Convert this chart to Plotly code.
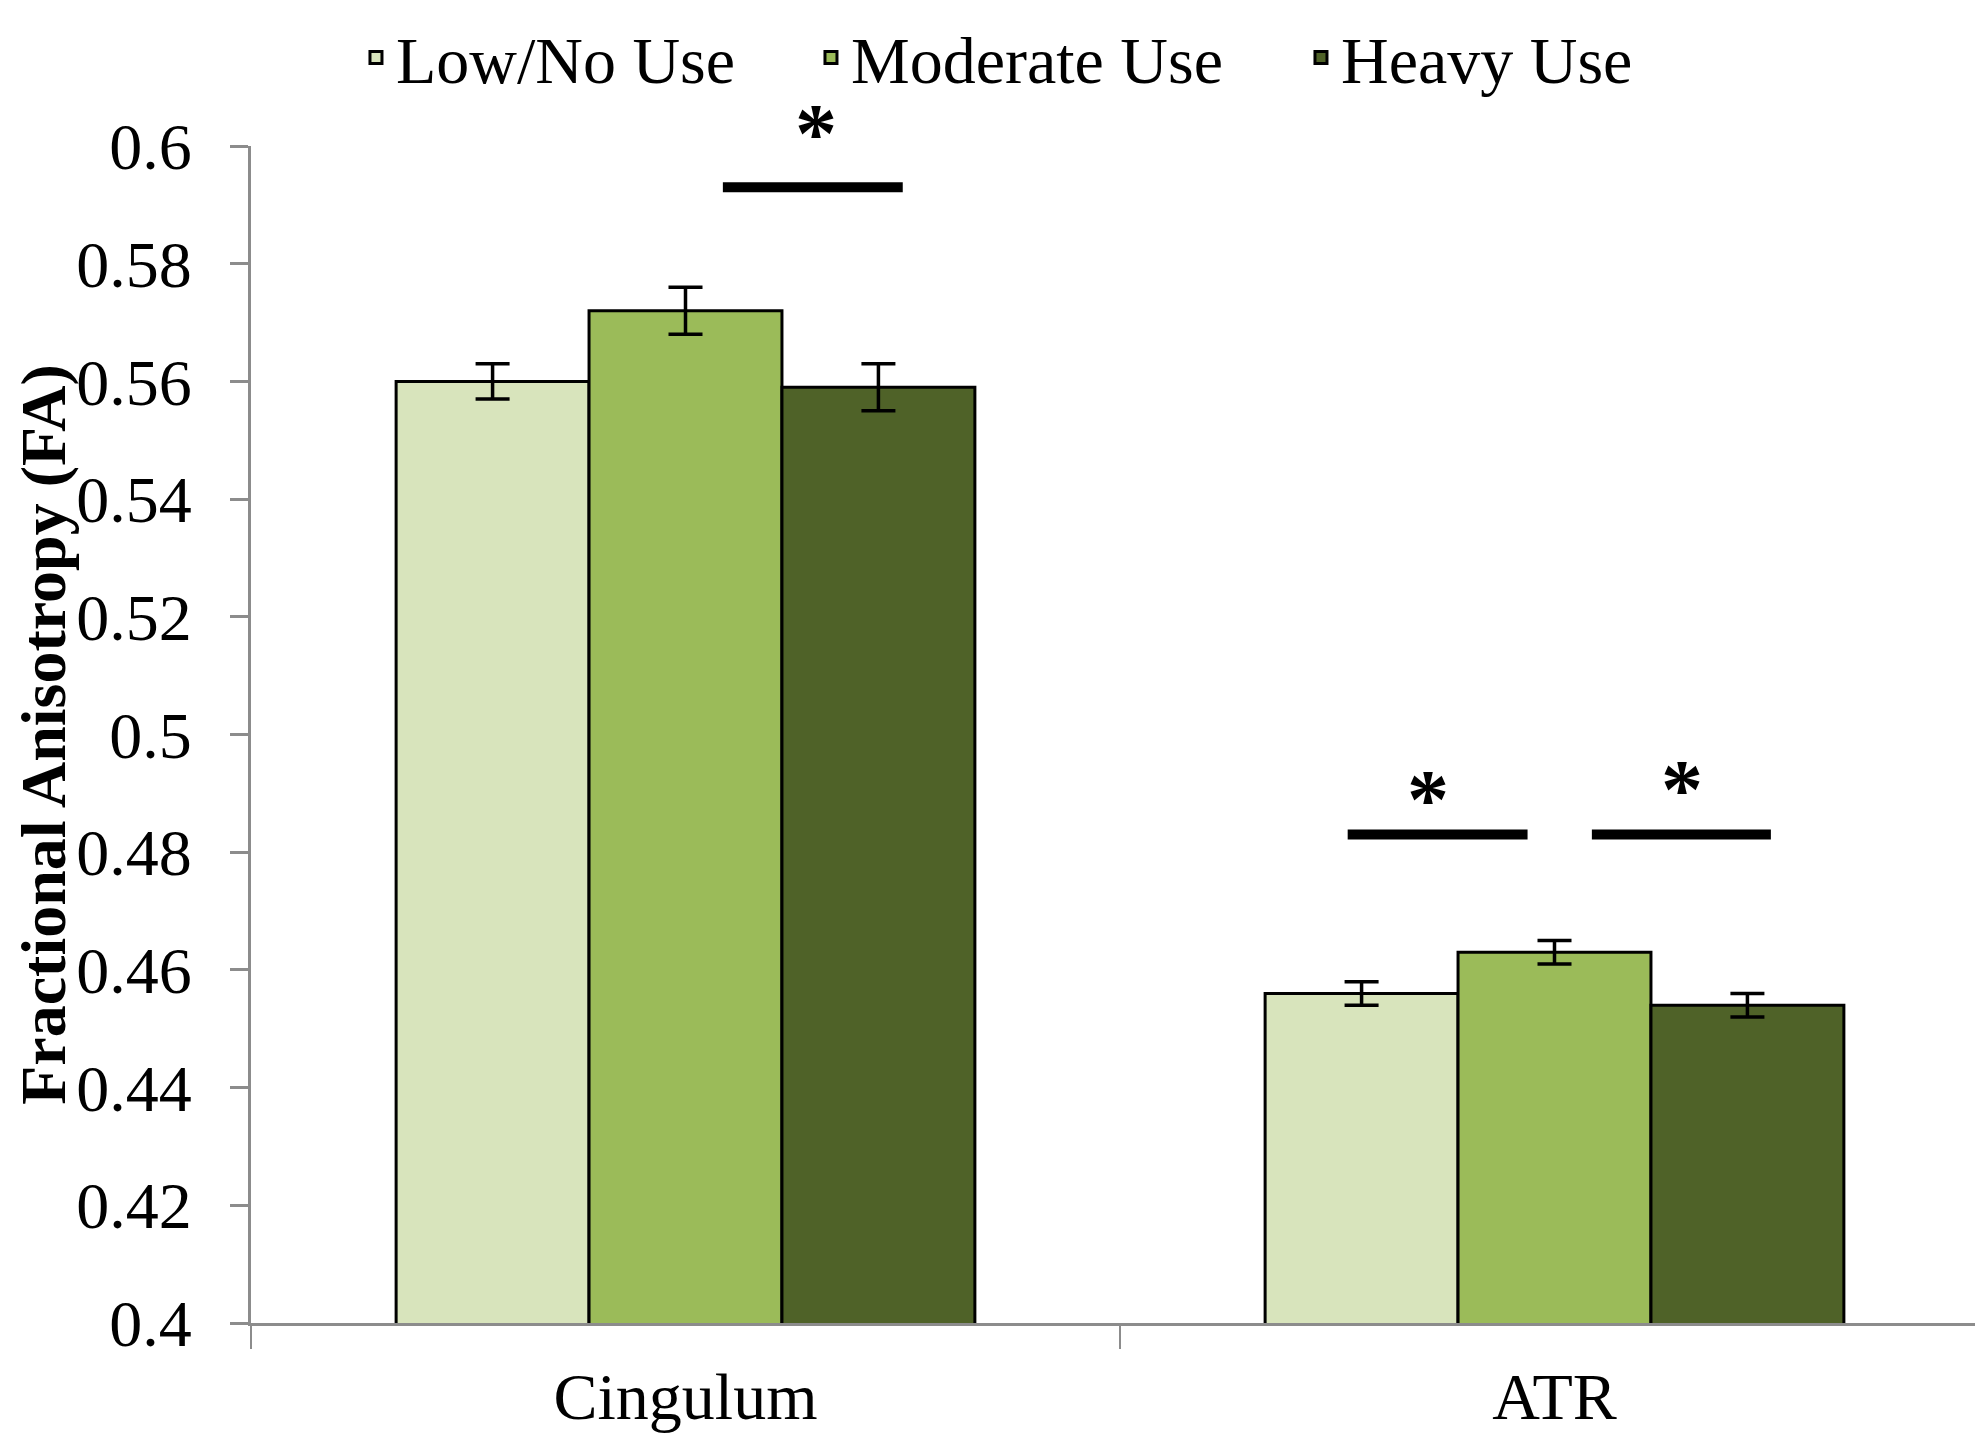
import plotly.graph_objects as go

categories = ["Cingulum", "ATR"]
series_names = ["Low/No Use", "Moderate Use", "Heavy Use"]
low_vals = [0.560, 0.456]
mod_vals = [0.572, 0.463]
heavy_vals = [0.559, 0.454]
low_err = [0.003, 0.002]
mod_err = [0.004, 0.002]
heavy_err = [0.004, 0.002]
y_ticks = [0.4, 0.42, 0.44, 0.46, 0.48, 0.5, 0.52, 0.54, 0.56, 0.58, 0.6]
y_tick_labels = ["0.4", "0.42", "0.44", "0.46", "0.48", "0.5", "0.52", "0.54", "0.56", "0.58", "0.6"]

# significance brackets: (x0, x1, y, star_x, star_y) in category-index / data units
sig_marks = [
    (0.043, 0.250, 0.593, 0.150, 0.6021),
    (0.762, 0.969, 0.483, 0.854, 0.4890),
    (1.043, 1.249, 0.483, 1.147, 0.4907),
]

colors = ["#D8E4BC", "#9BBB59", "#4F6228"]
legend_widths = [410, 445, 290]
FONT = "Liberation Serif"
Y_MIN, Y_MAX = 0.4, 0.6

fig = go.Figure()
for name, vals, errs, col, lw in zip(series_names, [low_vals, mod_vals, heavy_vals],
                                     [low_err, mod_err, heavy_err], colors, legend_widths):
    fig.add_trace(go.Bar(
        x=categories, y=vals, name=name, legendwidth=lw,
        marker=dict(color=col, line=dict(color="black", width=3)),
        error_y=dict(type="data", array=errs, color="black", thickness=3.5, width=17),
    ))

for x0, x1, y, sx, sy in sig_marks:
    fig.add_shape(type="line", x0=x0, x1=x1, y0=y, y1=y, xref="x", yref="y",
                  line=dict(color="black", width=10))
    fig.add_annotation(x=sx, y=(sy - Y_MIN) / (Y_MAX - Y_MIN), xref="x", yref="paper",
                       text="<b>*</b>", showarrow=False,
                       font=dict(family=FONT, size=84, color="black"), yanchor="middle")

fig.update_layout(
    width=1983, height=1440,
    margin=dict(l=243, r=2, t=138, b=125, autoexpand=False),
    paper_bgcolor="white", plot_bgcolor="white",
    barmode="group", bargap=0.334, bargroupgap=0,
    font=dict(family=FONT, size=64, color="black"),
    showlegend=True,
    legend=dict(orientation="h", x=0.0604, xanchor="left", y=1.0, yref="container",
                yanchor="top", font=dict(family=FONT, size=66, color="black"),
                bgcolor="rgba(0,0,0,0)"),
)
fig.update_xaxes(
    type="category", range=[-0.5, 1.5], automargin=False,
    showline=True, linecolor="#8C8C8C", linewidth=3, ticks="outside", tickson="boundaries",
    tickcolor="#8C8C8C", ticklen=23, tickwidth=2, showgrid=False, zeroline=False,
    tickfont=dict(family=FONT, size=66, color="black"), ticklabelstandoff=14,
)
fig.update_yaxes(
    range=[Y_MIN, Y_MAX], tickmode="array", tickvals=y_ticks, ticktext=y_tick_labels,
    automargin=False,
    showline=True, linecolor="#8C8C8C", linewidth=3, ticks="outside",
    tickcolor="#8C8C8C", ticklen=18, tickwidth=3, showgrid=False, zeroline=False,
    tickfont=dict(family=FONT, size=66, color="black"), ticklabelstandoff=25,
    title=dict(text="<b>Fractional Anisotropy (FA)</b>", font=dict(family=FONT, size=64, color="black"),
               standoff=32),
)

fig.write_html("out.html")
